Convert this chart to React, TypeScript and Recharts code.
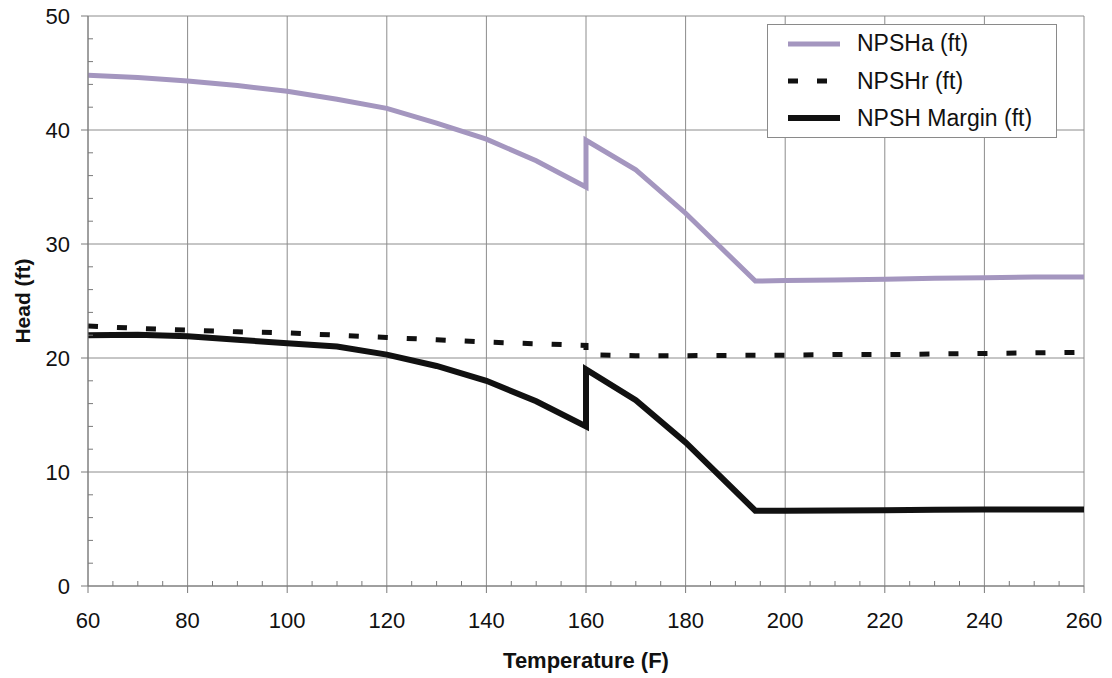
import { LineChart, Line, XAxis, YAxis, CartesianGrid, Legend, Label } from "recharts";

// temperature (F); 160 appears twice for the step in the curves
const temps = [60, 70, 80, 90, 100, 110, 120, 130, 140, 150, 160, 160, 170, 180, 194, 200, 210, 220, 230, 240, 250, 260];
const npsha = [44.8, 44.6, 44.3, 43.9, 43.4, 42.7, 41.9, 40.6, 39.2, 37.3, 35.0, 39.1, 36.5, 32.7, 26.75, 26.8, 26.85, 26.9, 27.0, 27.05, 27.1, 27.1];
const npshr = [22.8, 22.6, 22.45, 22.3, 22.2, 22.0, 21.8, 21.6, 21.4, 21.25, 21.1, 20.3, 20.2, 20.2, 20.25, 20.25, 20.3, 20.3, 20.35, 20.4, 20.45, 20.5];
const npshMargin = [22.0, 22.05, 21.9, 21.6, 21.3, 21.0, 20.3, 19.3, 18.0, 16.2, 14.0, 19.0, 16.3, 12.6, 6.6, 6.6, 6.62, 6.65, 6.68, 6.7, 6.7, 6.7];

const xTicks = [60, 80, 100, 120, 140, 160, 180, 200, 220, 240, 260];
const yTicks = [0, 10, 20, 30, 40, 50];

const data = temps.map((t, i) => ({ t, npsha: npsha[i], npshr: npshr[i], margin: npshMargin[i] }));

const W = 1112;
const H = 678;
const Y_W = 88;
const X_H = 92;
const MARGIN = { top: 16, right: 28, left: 0, bottom: 0 };
const PLOT_L = Y_W;
const PLOT_T = MARGIN.top;
const PLOT_W = W - PLOT_L - MARGIN.right;
const PLOT_H = H - PLOT_T - X_H;
const PLOT_B = PLOT_T + PLOT_H;

const FONT = "'Liberation Sans', Arial, sans-serif";
const AXIS = "#7a7a7a";
const GRID = "#8c8c8c";

const series = [
  { key: "npsha", name: "NPSHa (ft)", color: "#a496bf", width: 5, dash: undefined as string | undefined },
  { key: "npshr", name: "NPSHr (ft)", color: "#111", width: 5, dash: "10 19" },
  { key: "margin", name: "NPSH Margin (ft)", color: "#111", width: 6, dash: undefined },
];

// major label plus three inside minor ticks to the right of it
function XTick({ x, payload }: any) {
  const step = PLOT_W / (xTicks.length - 1) / 4;
  const last = payload.value >= xTicks[xTicks.length - 1];
  return (
    <g>
      {!last &&
        [1, 2, 3].map((k) => (
          <line key={k} x1={x + k * step} x2={x + k * step} y1={PLOT_B} y2={PLOT_B - 5} stroke={AXIS} />
        ))}
      <text x={x} y={PLOT_B + 42} textAnchor="middle" fontSize={22} fontFamily={FONT} fill="#111">
        {payload.value}
      </text>
    </g>
  );
}

// major label plus four inside minor ticks above it
function YTick({ y, payload }: any) {
  const step = PLOT_H / (yTicks.length - 1) / 5;
  const last = payload.value >= yTicks[yTicks.length - 1];
  return (
    <g>
      {!last &&
        [1, 2, 3, 4].map((k) => (
          <line key={k} x1={PLOT_L} x2={PLOT_L + 5} y1={y - k * step} y2={y - k * step} stroke={AXIS} />
        ))}
      <text x={PLOT_L - 18} y={y + 8} textAnchor="end" fontSize={22} fontFamily={FONT} fill="#111">
        {payload.value}
      </text>
    </g>
  );
}

function LegendBox() {
  return (
    <div
      style={{
        width: 288,
        height: 112,
        border: "1px solid #8a8a8a",
        background: "#fff",
        fontFamily: FONT,
      }}
    >
      {series.map((s) => (
        <div key={s.key} style={{ display: "flex", alignItems: "center", height: 37.4 }}>
          <svg width={52} height={10} style={{ marginLeft: 20 }}>
            <line x1={0} x2={52} y1={5} y2={5} stroke={s.color} strokeWidth={s.width} strokeDasharray={s.dash} />
          </svg>
          <span style={{ marginLeft: 17, fontSize: 23, color: "#111", lineHeight: 1 }}>{s.name}</span>
        </div>
      ))}
    </div>
  );
}

export default function App() {
  return (
    <div style={{ position: "absolute", left: 0, top: 0, background: "#fff" }}>
      <LineChart width={W} height={H} data={data} margin={MARGIN}>
        <CartesianGrid stroke={GRID} strokeWidth={1} />
        <XAxis
          dataKey="t"
          type="number"
          domain={[60, 260]}
          ticks={xTicks}
          interval={0}
          height={X_H}
          tickSize={7}
          tick={(p: any) => <XTick {...p} />}
          tickLine={{ stroke: AXIS }}
          axisLine={{ stroke: AXIS }}
        >
          <Label
            value="Temperature (F)"
            position="insideBottom"
            offset={10}
            style={{ fontFamily: FONT, fontSize: 22, fontWeight: "bold", fill: "#111" }}
          />
        </XAxis>
        <YAxis
          type="number"
          domain={[0, 50]}
          ticks={yTicks}
          interval={0}
          width={Y_W}
          tickSize={7}
          tick={(p: any) => <YTick {...p} />}
          tickLine={{ stroke: AXIS }}
          axisLine={{ stroke: AXIS }}
        >
          <Label
            content={() => (
              <text
                x={30}
                y={PLOT_T + PLOT_H / 2}
                transform={`rotate(-90 30 ${PLOT_T + PLOT_H / 2})`}
                textAnchor="middle"
                fontFamily={FONT}
                fontSize={21}
                fontWeight="bold"
                fill="#111"
              >
                Head (ft)
              </text>
            )}
          />
        </YAxis>
        <Legend
          layout="horizontal"
          verticalAlign="middle"
          align="center"
          content={() => <LegendBox />}
          wrapperStyle={{ top: 24, left: 767, width: 290, height: 114 }}
        />
        {series.map((s) => (
          <Line
            key={s.key}
            type="linear"
            dataKey={s.key}
            name={s.name}
            stroke={s.color}
            strokeWidth={s.width}
            strokeDasharray={s.dash}
            dot={false}
            activeDot={false}
            isAnimationActive={false}
          />
        ))}
      </LineChart>
    </div>
  );
}
